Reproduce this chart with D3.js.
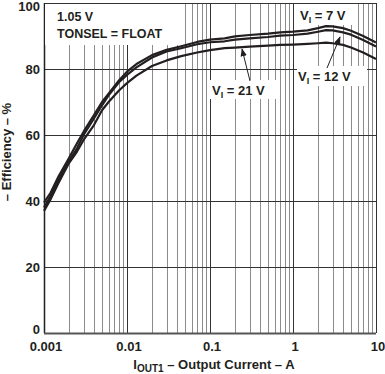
<!DOCTYPE html>
<html><head><meta charset="utf-8">
<script src="https://cdn.jsdelivr.net/npm/d3@7"></script>
<style>
html,body{margin:0;padding:0;background:#fff;}
text{font-family:"Liberation Sans",Arial,Helvetica,sans-serif;font-weight:bold;fill:#231f20;}
</style></head>
<body><svg id="c" width="385" height="374"></svg>
<script>
const currents = [0.001,0.0012,0.0015,0.002,0.0025,0.003,0.004,0.005,0.006,0.008,0.01,0.013,0.02,0.03,0.045,0.07,0.1,0.15,0.2,0.3,0.5,0.7,1,1.5,2,2.5,3,4,5,7,10];
const eff7V  = [39.5,42.5,47.5,53,57.5,61,66,70,72.5,76.5,79.2,81.5,84.2,85.8,86.9,88.2,88.9,89.3,89.9,90.3,90.7,91.1,91.3,91.7,92.4,93,92.9,92.4,91.6,90,88];
const eff12V = [38,41.5,46.5,52,56,60,65,69,72,76,78.2,80.5,83.5,85.3,86.3,87.5,88.1,88.4,88.9,89.3,89.7,90.1,90.3,90.7,91.3,91.8,91.7,91.1,90.4,88.8,86.8];
const eff21V = [37,40.5,45.5,51.5,55,58.5,63,67.5,70,73.5,75.7,78,80.9,82.6,83.9,85,85.7,86.3,86.5,86.8,87.1,87.3,87.4,87.6,87.8,88,87.8,87.3,86.5,85,83];
const yTicks = [0,20,40,60,80,100];
const xTicks = [0.001,0.01,0.1,1,10];
const xTickLabels = ["0.001","0.01","0.1","1","10"];

const svg = d3.select("#c");
const L=44, R=376, T=3, B=333;
const x = d3.scaleLog().domain([0.001,10]).range([L,R]);
const y = d3.scaleLinear().domain([0,100]).range([B,T]);

// minor vertical grid
const minor=[];
for(let e=-3;e<1;e++){for(let m=2;m<=9;m++){minor.push(m*Math.pow(10,e));}}
svg.append("g").selectAll("line").data(minor).join("line")
  .attr("x1",d=>Math.round(x(d))+0.5).attr("x2",d=>Math.round(x(d))+0.5)
  .attr("y1",T).attr("y2",B).attr("stroke","#8c8c8c").attr("stroke-width",1);
svg.append("g").selectAll("line").data(xTicks).join("line")
  .attr("x1",d=>Math.round(x(d))+0.5).attr("x2",d=>Math.round(x(d))+0.5)
  .attr("y1",T).attr("y2",B).attr("stroke","#333").attr("stroke-width",1);
svg.append("g").selectAll("line").data(yTicks).join("line")
  .attr("x1",L).attr("x2",R)
  .attr("y1",d=>Math.round(y(d))+0.5).attr("y2",d=>Math.round(y(d))+0.5)
  .attr("stroke","#333").attr("stroke-width",1);
// axes lines
svg.append("line").attr("x1",L+0.5).attr("x2",L+0.5).attr("y1",T).attr("y2",B).attr("stroke","#231f20").attr("stroke-width",1.5);
svg.append("line").attr("x1",L).attr("x2",R).attr("y1",B+0.5).attr("y2",B+0.5).attr("stroke","#555").attr("stroke-width",2);

// white boxes behind annotations
const boxes=[[45,4,133,41],[297,4,56,21],[297,66,70,20],[210,80,66,19]];
svg.append("g").selectAll("rect").data(boxes).join("rect")
  .attr("x",d=>d[0]).attr("y",d=>d[1]).attr("width",d=>d[2]).attr("height",d=>d[3]).attr("fill","#fff");

// curves
const line = d3.line().x((d,i)=>x(currents[i])).y(d=>y(d));
[eff7V,eff12V,eff21V].forEach(s=>{
  svg.append("path").attr("d",line(s)).attr("fill","none").attr("stroke","#231f20").attr("stroke-width",2.2).attr("stroke-linejoin","round");
});

// tick labels
svg.append("g").selectAll("text").data(yTicks).join("text")
  .attr("x",40).attr("y",d=>d===0?y(d)+1:(d===100?y(d)+7.5:y(d)+5)).attr("text-anchor","end").attr("font-size","13px").text(d=>d);
svg.append("g").selectAll("text").data(xTicks).join("text")
  .attr("x",d=>x(d)+2).attr("y",351).attr("text-anchor","middle").attr("font-size","13px").text((d,i)=>xTickLabels[i]);

// axis titles
const xt = svg.append("text").attr("x",214).attr("y",369).attr("text-anchor","middle").attr("font-size","13px");
xt.append("tspan").text("I");
xt.append("tspan").attr("font-size","10px").attr("dy",2.5).text("OUT1");
xt.append("tspan").attr("dy",-2.5).text(" – Output Current – A");
svg.append("text").attr("transform","translate(11,152) rotate(-90)").attr("text-anchor","middle").attr("font-size","13px").text("– Efficiency – %");

// annotations
svg.append("text").attr("x",57).attr("y",21).attr("font-size","12.5px").text("1.05 V");
svg.append("text").attr("x",57).attr("y",38).attr("font-size","12.5px").text("TONSEL = FLOAT");
function vlabel(px,py,val){
  const t=svg.append("text").attr("x",px).attr("y",py).attr("font-size","13px");
  t.append("tspan").text("V");
  t.append("tspan").attr("font-size","9px").attr("dy",3).text("I");
  t.append("tspan").attr("dy",-3).text(" = "+val+" V");
}
vlabel(300,20,"7");
vlabel(298,81,"12");
vlabel(212,95,"21");

// arrows
svg.append("defs").append("marker").attr("id","ah").attr("viewBox","0 0 10 10").attr("refX",9).attr("refY",5)
  .attr("markerWidth",8).attr("markerHeight",8).attr("markerUnits","userSpaceOnUse").attr("orient","auto")
  .append("path").attr("d","M0,1 L10,5 L0,9 Z").attr("fill","#231f20");
svg.append("line").attr("x1",250).attr("y1",81).attr("x2",242).attr("y2",49).attr("stroke","#231f20").attr("stroke-width",1).attr("marker-end","url(#ah)");
svg.append("line").attr("x1",327).attr("y1",68).attr("x2",340).attr("y2",37).attr("stroke","#231f20").attr("stroke-width",1).attr("marker-end","url(#ah)");
</script></body></html>
